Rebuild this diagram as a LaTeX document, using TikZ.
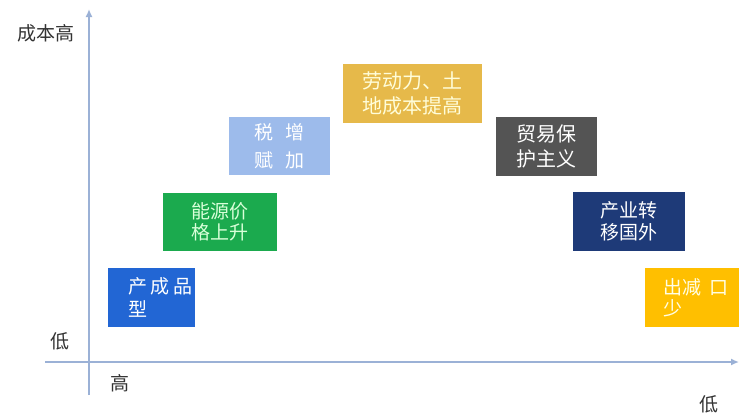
\documentclass[tikz,border=0pt]{standalone}
\usepackage{fontspec}
\newfontfamily\cjk{Noto Sans CJK SC}
\usetikzlibrary{arrows.meta,calc}
\definecolor{axiscol}{HTML}{9BB1D6}
\definecolor{cblue}{HTML}{2266D4}
\definecolor{cgreen}{HTML}{1BAA4E}
\definecolor{clight}{HTML}{9DBBEB}
\definecolor{cgold}{HTML}{E6B94A}
\definecolor{cgray}{HTML}{545454}
\definecolor{cnavy}{HTML}{1E3A78}
\definecolor{camber}{HTML}{FFBF00}
\definecolor{labcol}{HTML}{333333}
\tikzset{
  box/.style={rectangle, inner sep=0pt, draw=none, anchor=north west},
  boxtext/.style={text=white, font=\cjk\fontsize{19}{22}\selectfont, align=center, inner sep=0pt},
  axlabel/.style={text=labcol, font=\cjk\fontsize{19}{20}\selectfont, inner sep=0pt},
  axis/.style={draw=axiscol, line width=1.6pt, -{Latex[length=8pt,width=7pt]}}
}
\begin{document}
\begin{tikzpicture}[x=1pt,y=-1pt]
\clip (0,0) rectangle (739,416);
\fill[white] (0,0) rectangle (739,416);
% axes
\coordinate (ybot) at (89,395);
\coordinate (ytop) at (89,9);
\coordinate (xleft) at (45,362);
\coordinate (xright) at (739,362);
\draw[axis] (ybot) -- (ytop);
\draw[axis] (xleft) -- (xright);
% axis labels
\node[axlabel] (high) at (46,33) {成本高};
\node[axlabel] (low1) at (60,341) {低};
\node[axlabel] (high2) at (120,383) {高};
\node[axlabel] (low2) at (709,404) {低};
% boxes
\node[box, fill=cblue, minimum width=87pt, minimum height=59pt] (b1) at (108,268) {};
\node[boxtext, align=left, anchor=west, font=\cjk\fontsize{19}{23}\selectfont] (t1) at ($(b1.west)+(20,0)$) {产\hspace{3.5pt}成\hspace{3.5pt}品\\型};
\node[box, fill=cgreen, minimum width=114pt, minimum height=58pt] (b2) at (163,193) {};
\node[boxtext, text=white!85!green, font=\cjk\fontsize{19}{21}\selectfont] (t2) at (b2.center) {能源价\\格上升};
\node[box, fill=clight, minimum width=101pt, minimum height=58pt] (b3) at (229,117) {};
\node[boxtext, font=\cjk\fontsize{19}{28}\selectfont] (t3) at (b3.center) {税\hspace{12pt}增\\赋\hspace{12pt}加};
\node[box, fill=cgold, minimum width=139pt, minimum height=59pt] (b4) at (343,64) {};
\node[boxtext, text=white!85!yellow, font=\cjk\fontsize{20}{25}\selectfont] (t4) at (b4.center) {劳动力、土\\地成本提高};
\node[box, fill=cgray, minimum width=101pt, minimum height=59pt] (b5) at (496,117) {};
\node[boxtext, font=\cjk\fontsize{20}{25}\selectfont] (t5) at (b5.center) {贸易保\\护主义};
\node[box, fill=cnavy, minimum width=112pt, minimum height=59pt] (b6) at (573,192) {};
\node[boxtext] (t6) at (b6.center) {产业转\\移国外};
\node[box, fill=camber, minimum width=100pt, minimum height=59pt] (b7) at (645,268) {};
\node[boxtext, text=white!90!yellow, align=left, anchor=west, font=\cjk\fontsize{19}{21}\selectfont] (t7) at ($(b7.west)+(18,0)$) {出减\hspace{8pt}口\\少};
\end{tikzpicture}
\end{document}
